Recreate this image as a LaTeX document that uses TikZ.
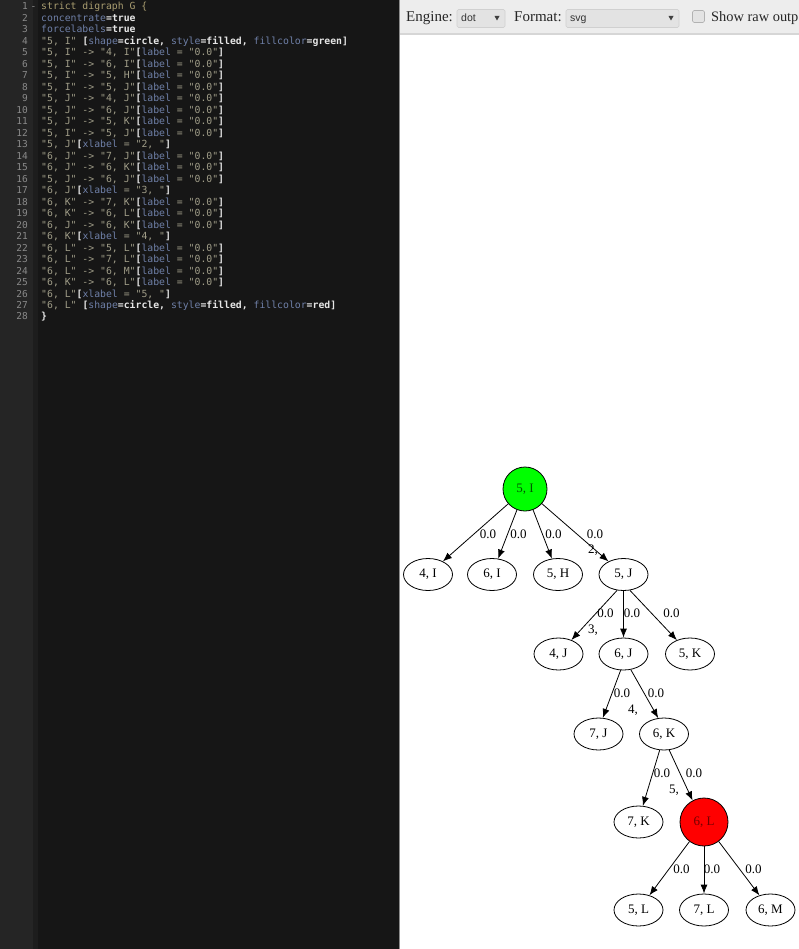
\documentclass[tikz,border=0pt]{standalone}
\usepackage{fontspec}
\setmainfont{Liberation Serif}
\setmonofont{DejaVu Sans Mono}
\newfontfamily\uisans{Liberation Sans}
\usetikzlibrary{shapes.geometric,arrows.meta}
\definecolor{gutterc}{HTML}{252525}
\definecolor{stripc}{HTML}{1D1D1D}
\definecolor{codebg}{HTML}{161616}
\definecolor{lnc}{HTML}{8A8A8A}
\definecolor{strc}{HTML}{A09D88}
\definecolor{keyc}{HTML}{6F80A8}
\definecolor{whc}{HTML}{E6E6E6}
\definecolor{hdc}{HTML}{A99D70}
\definecolor{tbc}{HTML}{EDEDED}
\definecolor{tbline}{HTML}{D6D6D6}
\definecolor{ddfill}{HTML}{E3E3E3}
\definecolor{ddline}{HTML}{D0D0D0}
\definecolor{greenfill}{HTML}{00FF00}
\definecolor{redfill}{HTML}{FF0000}
\newcommand\STR[1]{\textcolor{strc}{#1}}
\newcommand\KEY[1]{\textcolor{keyc}{#1}}
\newcommand\WH[1]{\textcolor{whc}{\bfseries #1}}
\newcommand\EDG[2]{\STR{"#1" -> "#2"}\WH{[}\KEY{label}\STR{\ = "0.0"}\WH{]}}
\newcommand\XLB[2]{\STR{"#1"}\WH{[}\KEY{xlabel}\STR{\ = "#2"}\WH{]}}
\tikzset{
  codeln/.style={anchor=base west, inner sep=0pt, font=\ttfamily\fontsize{9.8}{11}\selectfont},
  lnum/.style={anchor=base east, inner sep=0pt, text=lnc, font=\ttfamily\fontsize{9.5}{11}\selectfont},
  ell/.style={ellipse, draw, line width=0.8pt, minimum width=49pt, minimum height=32pt, inner sep=0pt, font=\fontsize{13}{15}\selectfont},
  circ/.style={circle, draw, line width=0.8pt, inner sep=0pt, font=\fontsize{13}{15}\selectfont},
  edge/.style={line width=0.8pt, -{Latex[length=9pt,width=7pt]}},
  elab/.style={inner sep=0pt, font=\fontsize{13}{15}\selectfont},
  uitext/.style={anchor=base west, inner sep=0pt, text=black!85, font=\fontsize{15}{17}\selectfont},
  ddtext/.style={anchor=base west, inner sep=0pt, text=black!80, font=\uisans\fontsize{10.5}{12}\selectfont},
  ddbox/.style={fill=ddfill, draw=ddline, line width=0.6pt, rounded corners=1.5pt},
}
\begin{document}
\begin{tikzpicture}[x=1pt,y=-1pt]
\useasboundingbox (0,0) rectangle (799,949);
% editor background
\fill[gutterc] (0,0) rectangle (33,949);
\fill[stripc] (33,0) rectangle (38,949);
\fill[codebg] (38,0) rectangle (399,949);
\fill[white] (399.5,0) rectangle (799,949);
\draw[black!45, line width=0.6pt] (399.3,0) -- (399.3,949);
% toolbar
\fill[tbc] (400,0) rectangle (799,33);
\draw[tbline, line width=1.2pt] (400,34) -- (799,34);
% line numbers
\foreach \i in {1,...,28} {
  \node[lnum] (n\i) at (28,{10+11.48*(\i-1)}) {\i};
}
\node[lnum, anchor=base west] (fold) at (30.5,10) {-};
% code
\node[codeln] (c1) at (41,10.00) {\textcolor{hdc}{strict digraph G \{}};
\node[codeln] (c2) at (41,21.48) {\KEY{concentrate}\WH{=true}};
\node[codeln] (c3) at (41,32.96) {\KEY{forcelabels}\WH{=true}};
\node[codeln] (c4) at (41,44.44) {\STR{"5, I"} \WH{[}\KEY{shape}\WH{=circle,} \KEY{style}\WH{=filled,} \KEY{fillcolor}\WH{=green]}};
\node[codeln] (c5) at (41,55.92) {\EDG{5, I}{4, I}};
\node[codeln] (c6) at (41,67.40) {\EDG{5, I}{6, I}};
\node[codeln] (c7) at (41,78.88) {\EDG{5, I}{5, H}};
\node[codeln] (c8) at (41,90.36) {\EDG{5, I}{5, J}};
\node[codeln] (c9) at (41,101.84) {\EDG{5, J}{4, J}};
\node[codeln] (c10) at (41,113.32) {\EDG{5, J}{6, J}};
\node[codeln] (c11) at (41,124.80) {\EDG{5, J}{5, K}};
\node[codeln] (c12) at (41,136.28) {\EDG{5, I}{5, J}};
\node[codeln] (c13) at (41,147.76) {\XLB{5, J}{2, }};
\node[codeln] (c14) at (41,159.24) {\EDG{6, J}{7, J}};
\node[codeln] (c15) at (41,170.72) {\EDG{6, J}{6, K}};
\node[codeln] (c16) at (41,182.20) {\EDG{5, J}{6, J}};
\node[codeln] (c17) at (41,193.68) {\XLB{6, J}{3, }};
\node[codeln] (c18) at (41,205.16) {\EDG{6, K}{7, K}};
\node[codeln] (c19) at (41,216.64) {\EDG{6, K}{6, L}};
\node[codeln] (c20) at (41,228.12) {\EDG{6, J}{6, K}};
\node[codeln] (c21) at (41,239.60) {\XLB{6, K}{4, }};
\node[codeln] (c22) at (41,251.08) {\EDG{6, L}{5, L}};
\node[codeln] (c23) at (41,262.56) {\EDG{6, L}{7, L}};
\node[codeln] (c24) at (41,274.04) {\EDG{6, L}{6, M}};
\node[codeln] (c25) at (41,285.52) {\EDG{6, K}{6, L}};
\node[codeln] (c26) at (41,297.00) {\XLB{6, L}{5, }};
\node[codeln] (c27) at (41,308.48) {\STR{"6, L"} \WH{[}\KEY{shape}\WH{=circle,} \KEY{style}\WH{=filled,} \KEY{fillcolor}\WH{=red]}};
\node[codeln] (c28) at (41,319.96) {\WH{\}}};
% toolbar widgets
\node[uitext] (engine) at (406,22) {Engine:};
\draw[ddbox] (457,9.5) rectangle (505,27.5);
\node[ddtext] (dot) at (461,22) {dot};
\fill[black!75] (494.5,16) -- (499.5,16) -- (497,20.5) -- cycle;
\node[uitext] (format) at (514,22) {Format:};
\draw[ddbox] (566,9.5) rectangle (679,27.5);
\node[ddtext] (svg) at (570,22) {svg};
\fill[black!75] (668.5,16) -- (673.5,16) -- (671,20.5) -- cycle;
\draw[fill=ddfill, draw=black!30, line width=0.6pt, rounded corners=1.5pt] (692.5,10.5) rectangle (704.5,22.5);
\node[uitext, font=\fontsize{14.4}{17}\selectfont] (raw) at (711,22) {Show raw outp};
% graph nodes
\node[circ, fill=greenfill, minimum size=44pt, text=green!35!black] (I5) at (525,489) {5, I};
\node[ell] (I4) at (428,574.5) {4, I};
\node[ell] (I6) at (492,574.5) {6, I};
\node[ell] (H5) at (558,574.5) {5, H};
\node[ell] (J5) at (623.5,574.5) {5, J};
\node[ell] (J4) at (558.5,654) {4, J};
\node[ell] (J6) at (623.5,654) {6, J};
\node[ell] (K5) at (690,654) {5, K};
\node[ell] (J7) at (598.5,734) {7, J};
\node[ell] (K6) at (664,734) {6, K};
\node[ell] (K7) at (638.5,822) {7, K};
\node[circ, fill=redfill, minimum size=48pt, text=red!45!black] (L6) at (704,822) {6, L};
\node[ell] (L5) at (638.5,910) {5, L};
\node[ell] (L7) at (704,910) {7, L};
\node[ell] (M6) at (770.5,910) {6, M};
% edges
\draw[edge] (I5) -- (I4);
\draw[edge] (I5) -- (I6);
\draw[edge] (I5) -- (H5);
\draw[edge] (I5) -- (J5);
\draw[edge] (J5.-112) -- (J4);
\draw[edge] (J5) -- (J6);
\draw[edge] (J5.-68) -- (K5);
\draw[edge] (J6.-100) -- (J7.75);
\draw[edge] (J6.-65) -- (K6.110);
\draw[edge] (K6.-105) -- (K7.75);
\draw[edge] (K6.-72) -- (L6.118);
\draw[edge] (L6) -- (L5);
\draw[edge] (L6) -- (L7);
\draw[edge] (L6) -- (M6);
% edge labels
\node[elab] (e1) at (488,534) {0.0};
\node[elab] (e2) at (518.5,534) {0.0};
\node[elab] (e3) at (553.5,534) {0.0};
\node[elab] (e4) at (595,534) {0.0};
\node[elab] (x2) at (593,550.5) {2,};
\node[elab] (e5) at (605.5,613) {0.0};
\node[elab] (e6) at (632,613) {0.0};
\node[elab] (e7) at (671.5,613) {0.0};
\node[elab] (x3) at (593,630.5) {3,};
\node[elab] (e8) at (622,693.5) {0.0};
\node[elab] (e9) at (656,693.5) {0.0};
\node[elab] (x4) at (633,710.5) {4,};
\node[elab] (e10) at (662,773.5) {0.0};
\node[elab] (e11) at (694,773.5) {0.0};
\node[elab] (x5) at (674,790.5) {5,};
\node[elab] (e12) at (681.5,869) {0.0};
\node[elab] (e13) at (712,869) {0.0};
\node[elab] (e14) at (753.5,869) {0.0};
\end{tikzpicture}
\end{document}
